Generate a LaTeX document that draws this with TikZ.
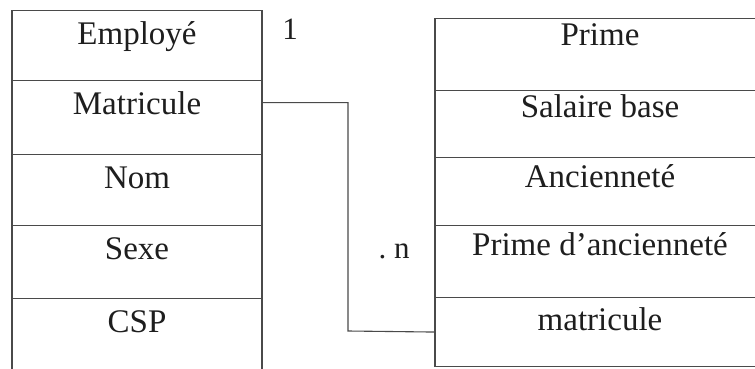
\documentclass[tikz,border=0pt]{standalone}
\usepackage{fontspec}
\setmainfont{Liberation Serif}
\definecolor{linecol}{HTML}{4A4A4A}
\definecolor{txtcol}{HTML}{1E1E1E}
\begin{document}
\begin{tikzpicture}[x=1pt,y=-1pt,
  cell/.style={draw=linecol, line width=1.1pt, inner sep=0pt, anchor=north,
    font=\fontsize{33}{36}\selectfont, text=txtcol},
  lcell/.style={cell, minimum width=250pt, text height=34pt},
  rcell/.style={cell, minimum width=330pt, text height=27pt},
  lbl/.style={anchor=base, inner sep=0pt, font=\fontsize{31}{34}\selectfont, text=txtcol},
  conn/.style={draw=linecol, line width=1.1pt}]
\useasboundingbox (0,0) rectangle (755,369);
\clip (0,0) rectangle (755,369);
\fill[white] (0,0) rectangle (755,369);
% left table
\node[lcell, text depth=36pt] (e1) at (137,10) {Employé};
\node[lcell, text depth=40pt] (e2) at (137,80) {Matricule};
\node[lcell, text depth=37pt] (e3) at (137,154) {Nom};
\node[lcell, text depth=39pt] (e4) at (137,225) {Sexe};
\node[lcell, text depth=56pt] (e5) at (137,298) {CSP};
% right table
\node[rcell, text depth=45pt] (p1) at (600,18) {Prime};
\node[rcell, text depth=40pt] (p2) at (600,90) {Salaire base};
\node[rcell, text height=30pt, text depth=38pt] (p3) at (600,157) {Ancienneté};
\node[rcell, text height=30pt, text depth=42pt] (p4) at (600,225) {Prime d’ancienneté};
\node[rcell, text height=33pt, text depth=36pt] (p5) at (600,297) {matricule};
% cardinalities
\node[lbl] (one) at (290,40) {1};
\node[lbl] (many) at (394,258) {.\ n};
% connector
\coordinate (elb) at (348,331);
\draw[conn] ([yshift=15pt]e2.east) -| (elb) -- (p5.west);
\end{tikzpicture}
\end{document}
